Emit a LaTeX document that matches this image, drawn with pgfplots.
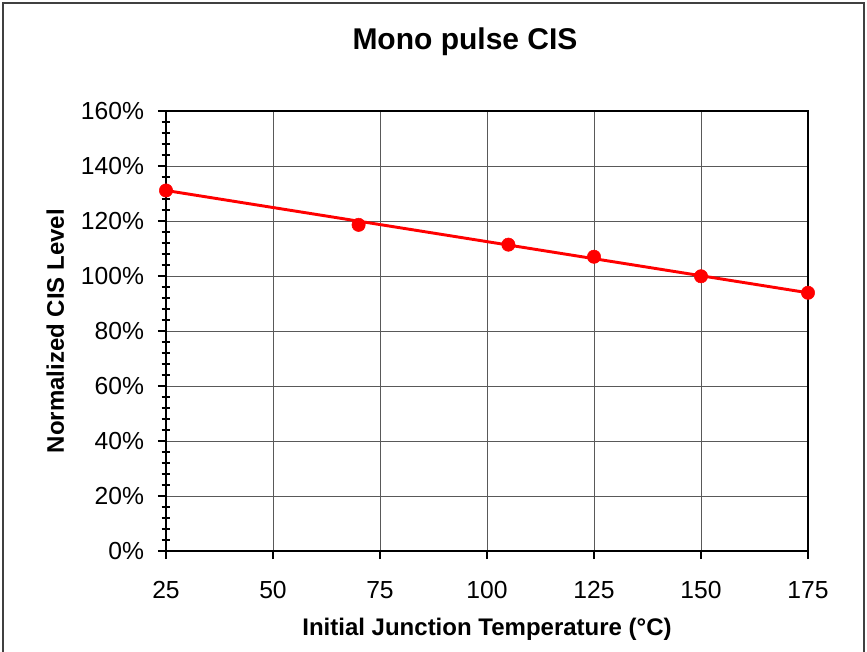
\documentclass[border=0pt]{standalone}
\usepackage{fontspec}
\setmainfont{Liberation Sans}
\usepackage{pgfplots}
\pgfplotsset{compat=1.18}
\definecolor{cisred}{RGB}{255,0,0}
\begin{document}
\begin{tikzpicture}
\useasboundingbox (-124.5pt,-75pt) rectangle (525.75pt,413.25pt);
\draw[line width=0.9pt, black!75] (-122.25pt,-80pt) -- (-122.25pt,411pt) -- (523.5pt,411pt) -- (523.5pt,-80pt);
\begin{axis}[
  at={(0,0)}, anchor=south west,
  scale only axis, width=481.5pt, height=330pt,
  xmin=25, xmax=175, ymin=0, ymax=160,
  xtick={25,50,...,175}, ytick={0,20,...,160},
  xtick pos=bottom, ytick pos=left,
  tick align=outside, major tick length=6pt,
  grid=major,
  major grid style={line width=0.6pt, black!65},
  axis line style={line width=1.1pt, black},
  tick style={line width=0.9pt, black},
  /pgf/number format/assume math mode=true,
  ticklabel style={font=\fontsize{18.5pt}{20pt}\selectfont},
  yticklabel={\pgfmathprintnumber[assume math mode=true]{\tick}\%},
  x tick label style={yshift=-13pt},
  y tick label style={xshift=-7pt},
  extra y ticks={4,8,12,16,24,28,32,36,44,48,52,56,64,68,72,76,84,88,92,96,104,108,112,116,124,128,132,136,144,148,152,156},
  extra y tick labels={},
  extra y tick style={tick align=center, major tick length=6.5pt, grid=none},
  xlabel={Initial Junction Temperature (°C)},
  ylabel={Normalized CIS Level},
  label style={font=\bfseries\fontsize{18pt}{20pt}\selectfont},
  x label style={at={(axis description cs:0.5,-0.179)}, anchor=center},
  y label style={at={(axis description cs:-0.1724,0.5)}, anchor=center},
]
\addplot[cisred, line width=2.2pt, mark=none] coordinates {(25,131.1) (175,93.9)};
\addplot[cisred, only marks, mark=*, mark size=5pt, mark options={fill=cisred, draw=cisred}] coordinates {
(25,131.1) (70,118.6) (105,111.4) (125,107.0) (150,99.9) (175,93.9)};
\end{axis}
\node[font=\bfseries\fontsize{22.5pt}{24pt}\selectfont] at (224.25pt,381.75pt) {Mono pulse CIS};
\end{tikzpicture}
\end{document}
